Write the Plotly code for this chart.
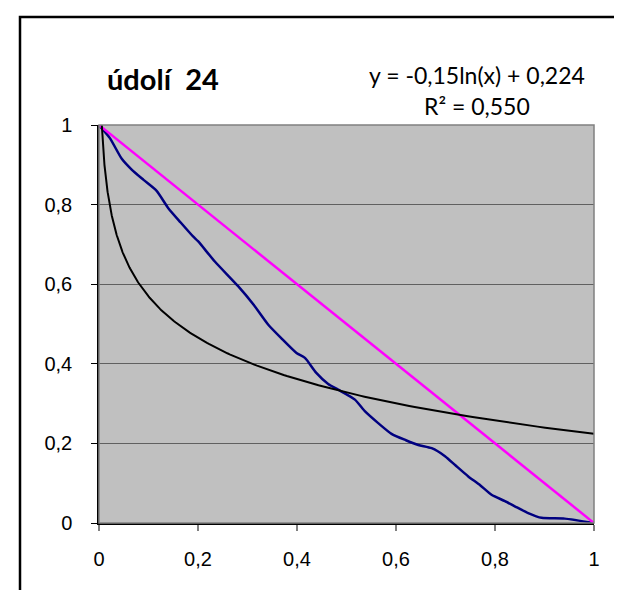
import numpy as np
import plotly.graph_objects as go

# Lorenz-like curve (blue)
curve_x = [0, 0.022, 0.046, 0.066, 0.09, 0.116, 0.14, 0.165, 0.19, 0.20, 0.234, 0.281,
           0.312, 0.342, 0.37, 0.399, 0.416, 0.439, 0.463, 0.483, 0.517, 0.537, 0.564,
           0.591, 0.62, 0.645, 0.672, 0.699, 0.72, 0.746, 0.77, 0.793, 0.82, 0.84,
           0.867, 0.894, 0.941, 1.0]
curve_y = [1, 0.967, 0.915, 0.888, 0.862, 0.835, 0.791, 0.755, 0.72, 0.708, 0.657, 0.595,
           0.549, 0.498, 0.462, 0.427, 0.415, 0.377, 0.349, 0.335, 0.31, 0.281, 0.251,
           0.224, 0.208, 0.196, 0.188, 0.168, 0.145, 0.117, 0.095, 0.071, 0.055, 0.042,
           0.025, 0.013, 0.011, 0.0]

# Equality line (magenta)
equal_x = [0, 1]
equal_y = [1, 0]

# Logarithmic trendline coefficients: y = a*ln(x) + b
trend_a = -0.15
trend_b = 0.224

tick_vals = [0, 0.2, 0.4, 0.6, 0.8, 1]

x_start = np.exp((1 - trend_b) / trend_a)
trend_x = np.geomspace(x_start, 1, 300)
trend_y = trend_a * np.log(trend_x) + trend_b

fig = go.Figure()
fig.add_trace(go.Scatter(x=curve_x, y=curve_y, mode="lines",
                         line=dict(color="#000080", width=2.5, shape="spline", smoothing=0.6)))
fig.add_trace(go.Scatter(x=equal_x, y=equal_y, mode="lines",
                         line=dict(color="#FF00FF", width=2.5)))
fig.add_trace(go.Scatter(x=trend_x, y=trend_y, mode="lines",
                         line=dict(color="#000000", width=2)))

L, R, T, B = 91, 36, 117, 75
W, H = 622, 590
pw = W - L - R
ph = H - T - B

def px(x):
    return (x - L) / pw

def py(y):
    return (H - B - y) / ph

fig.update_layout(
    width=W, height=H,
    margin=dict(l=L, r=R, t=T, b=B),
    paper_bgcolor="white",
    plot_bgcolor="#C0C0C0",
    showlegend=False,
    separators=", ",
    font=dict(family="Liberation Sans, Arial, sans-serif", size=20, color="black"),
    xaxis=dict(range=[0, 1], tickvals=tick_vals, showgrid=False, zeroline=False,
               showline=True, linecolor="black", linewidth=1.5, mirror=False,
               ticks="outside", ticklen=6, tickcolor="#808080", tickwidth=1.5,
               tickfont=dict(size=20), ticklabelstandoff=11),
    yaxis=dict(range=[0, 1], tickvals=tick_vals, showgrid=True, gridcolor="#606060",
               gridwidth=1, zeroline=False,
               showline=True, linecolor="black", linewidth=1.5,
               ticks="outside", ticklen=6, tickcolor="black", tickwidth=1,
               tickfont=dict(size=20), ticklabelstandoff=15),
    shapes=[
        dict(type="rect", xref="paper", yref="paper", x0=0, x1=1, y0=0, y1=1,
             line=dict(color="#808080", width=1.5), fillcolor="rgba(0,0,0,0)", layer="above"),
        dict(type="rect", xref="paper", yref="paper", x0=px(12), x1=px(640),
             y0=py(610), y1=py(9), line=dict(color="black", width=2.5),
             fillcolor="rgba(0,0,0,0)"),
    ],
    annotations=[
        dict(text="<b>údolí  24</b>", xref="paper", yref="paper", x=px(155), y=py(70),
             xanchor="center", yanchor="middle", showarrow=False,
             font=dict(family="Lato, sans-serif", size=29, color="black")),
        dict(text="y = -0,15ln(x) + 0,224", xref="paper", yref="paper", x=px(469), y=py(67),
             xanchor="center", yanchor="middle", showarrow=False,
             font=dict(family="Lato, sans-serif", size=23, color="black")),
        dict(text="R² = 0,550", xref="paper", yref="paper", x=px(469), y=py(98),
             xanchor="center", yanchor="middle", showarrow=False,
             font=dict(family="Lato, sans-serif", size=23, color="black")),
    ],
)

fig.write_html("out.html")
